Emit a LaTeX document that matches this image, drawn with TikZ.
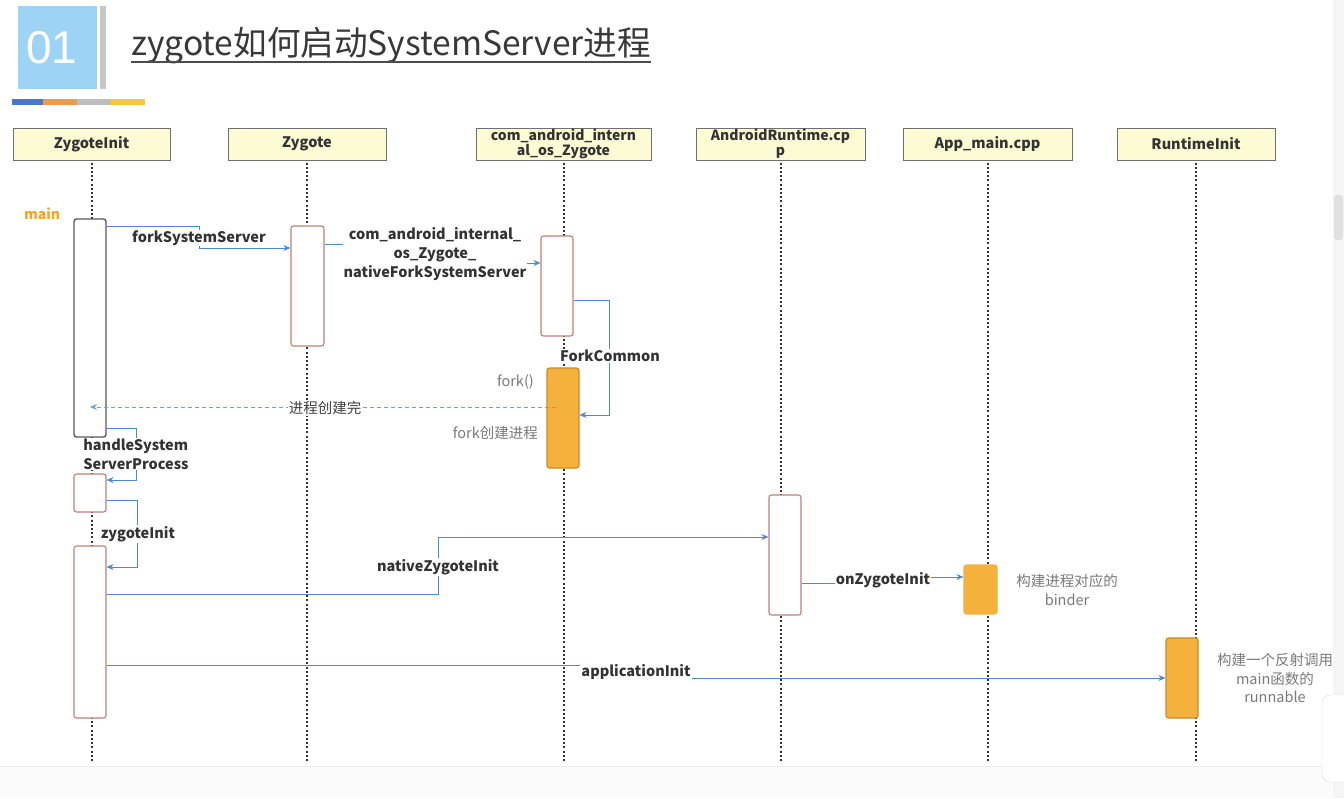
\documentclass[tikz,border=0pt]{standalone}
\usepackage{fontspec}
\setmainfont{Noto Sans CJK SC}
\newfontfamily\numfont{Liberation Sans}
\usetikzlibrary{arrows.meta}
\definecolor{headyellow}{HTML}{FDFBD3}
\definecolor{headborder}{HTML}{707070}
\definecolor{actred}{HTML}{BF7F7A}
\definecolor{actorange}{HTML}{F4B13C}
\definecolor{actorangeb}{HTML}{C98A2E}
\definecolor{msgblue}{HTML}{4F86D6}
\definecolor{txtdark}{HTML}{333333}
\definecolor{txtgray}{HTML}{7A7A7A}
\definecolor{titleblue}{HTML}{9DD3F5}
\definecolor{barblue}{HTML}{4A78C8}
\definecolor{barorange}{HTML}{EE9A4C}
\definecolor{bargray}{HTML}{BDBDBD}
\definecolor{baryellow}{HTML}{F8C63C}
\definecolor{mainorange}{HTML}{F5A623}
\tikzset{
  head/.style={draw=headborder, line width=1pt, fill=headyellow, minimum height=32pt, inner sep=0pt, font=\fontsize{14.5}{14.5}\selectfont\bfseries, text=txtdark, align=center},
  life/.style={line width=2pt, dash pattern=on 2pt off 2.2pt, black!80},
  actw/.style={draw=actred, line width=1.1pt, fill=white, rounded corners=2.5pt, minimum width=32pt, inner sep=0pt},
  acto/.style={draw=actorangeb, line width=1.1pt, fill=actorange, rounded corners=2.5pt, minimum width=32pt, inner sep=0pt},
  msg/.style={draw=msgblue, line width=0.9pt, -{Stealth[length=7pt,width=6pt]}},
  retmsg/.style={draw=msgblue!80, line width=0.8pt, dash pattern=on 4pt off 3pt, -{Stealth[length=7pt,width=6pt]}},
  lbl/.style={fill=white, inner sep=1pt, font=\fontsize{14.5}{19}\selectfont\bfseries, text=txtdark, align=center},
  glbl/.style={inner sep=1pt, font=\fontsize{14.5}{18.5}\selectfont, text=txtgray, align=center},
}
\begin{document}
\begin{tikzpicture}[x=1pt,y=-1pt]
\useasboundingbox (0,0) rectangle (1344,798);
\fill[white] (0,0) rectangle (1344,798);
% bottom and right chrome
\fill[black!1.5] (0,766) rectangle (1344,798);
\draw[black!8] (0,766) -- (1333,766);
\fill[blue!2!black!4] (1333,0) rectangle (1344,798);
\fill[black!12, rounded corners=3pt] (1334,195) rectangle (1343,240);
% title block
\fill[titleblue] (18,6) rectangle (97,89);
\fill[black!22] (100,6) rectangle (106,89);
\node[text=white, font=\numfont\fontsize{46}{46}\selectfont] (num) at (52,48) {01};
\node[anchor=base west, inner sep=0pt, text=black!78, font=\fontsize{33.6}{33.6}\selectfont] (title) at (131,55) {zygote如何启动SystemServer进程};
\draw[black!70, line width=1.2pt] (title.base west |- 0,62) -- (title.base east |- 0,62);
\fill[barblue] (12,99) rectangle (43,105);
\fill[barorange] (43,99) rectangle (77,105);
\fill[bargray] (77,99) rectangle (110,105);
\fill[baryellow] (110,99) rectangle (145,105);
% heads
\node[head, minimum width=157pt] (h1) at (91.5,144) {ZygoteInit};
\node[head, minimum width=158pt] (h2) at (307,144) {Zygote};
\node[head, minimum width=175pt, font=\fontsize{14}{15}\selectfont\bfseries] (h3) at (563.5,144) {com\_android\_intern\\al\_os\_Zygote};
\node[head, minimum width=169pt, font=\fontsize{14}{15}\selectfont\bfseries] (h4) at (780.5,144) {AndroidRuntime.cp\\p};
\node[head, minimum width=169pt] (h5) at (987.5,144) {App\_main.cpp};
\node[head, minimum width=158pt] (h6) at (1196,144) {RuntimeInit};
% lifelines
\foreach \h in {h1,h2,h3,h4,h5,h6} {
  \draw[life] ([yshift=-2pt]\h.south) -- (\h.south |- 0,762);
}
% activations
\node[actw, draw=black!65, line width=1.4pt, minimum height=218pt] (amain) at (90,328) {};
\node[actw, minimum width=33pt, minimum height=120pt] (azyg) at (307.5,286) {};
\node[actw, minimum height=100pt] (acom) at (557,286) {};
\node[acto, minimum height=100pt] (afork) at (563,418) {};
\node[actw, minimum height=38pt] (ahs) at (90,493) {};
\node[actw, minimum height=172pt] (azi) at (90,632) {};
\node[actw, minimum height=120pt] (aar) at (785,555) {};
\node[acto, minimum width=33pt, minimum height=49pt, draw=actorange] (aapp) at (980.5,589.5) {};
\node[acto, minimum height=80pt] (art) at (1182,678) {};
% main label
\node[text=mainorange, font=\fontsize{14}{14}\selectfont\bfseries] (mainlbl) at (42,214) {main};
% messages
\draw[msg] (amain.east |- 0,226) -- (199,226) -- (199,248) -- (azyg.west |- 0,248);
\node[lbl] (l1) at (199,238) {forkSystemServer};
\draw[msg] (azyg.east |- 0,244) -- (435,244) -- (435,263) -- (acom.west |- 0,263);
\node[lbl] (l2) at (435,254) {com\_android\_internal\_\\os\_Zygote\_\\nativeForkSystemServer};
\draw[msg] (acom.east |- 0,300) -- (609,300) -- (609,415) -- (afork.east |- 0,415);
\node[lbl] (l3) at (610,356) {ForkCommon};
\node[glbl, anchor=east] (g1) at (535,382) {fork()};
\node[glbl, anchor=east] (g2) at (539,433) {fork创建进程};
\draw[retmsg] ([xshift=10pt]afork.west |- 0,407) -- (amain.center |- 0,407);
\node[lbl, font=\fontsize{14.5}{14.5}\selectfont, text=black!75] (l4) at (325,408) {进程创建完};
\draw[msg] (amain.east |- 0,428) -- (136,428) -- (136,480) -- (ahs.east |- 0,480);
\node[lbl, align=left] (l5) at (136,454) {handleSystem\\ServerProcess};
\draw[msg] (ahs.east |- 0,500) -- (137,500) -- (137,567) -- (azi.east |- 0,567);
\node[lbl] (l6) at (138,534) {zygoteInit};
\draw[msg] (azi.east |- 0,594) -- (438,594) -- (438,537) -- (aar.west |- 0,537);
\node[lbl] (l7) at (438,567) {nativeZygoteInit};
\draw[msg] (aar.east |- 0,583) -- (883,583) -- (883,577) -- (aapp.west |- 0,577);
\node[lbl] (l8) at (883,580) {onZygoteInit};
\draw[msg] (azi.east |- 0,665) -- (636,665) -- (636,678) -- (art.west |- 0,678);
\node[lbl] (l9) at (636,672) {applicationInit};
% notes
\node[glbl] (g3) at (1067,590) {构建进程对应的\\binder};
\node[glbl] (g4) at (1275,678) {构建一个反射调用\\main函数的\\runnable};
% overlay widget bottom right
\draw[black!15, fill=white, rounded corners=8pt] (1322,695) rectangle (1352,782);
\end{tikzpicture}
\end{document}
